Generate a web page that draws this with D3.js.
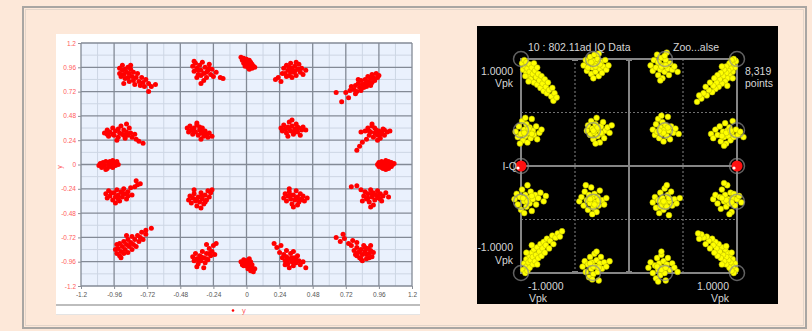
<!DOCTYPE html>
<html>
<head>
<meta charset="utf-8">
<script src="https://cdn.jsdelivr.net/npm/d3@7"></script>
<style>
html, body { margin: 0; padding: 0; background: #fde8d9; }
svg { display: block; }
</style>
</head>
<body>
<div id="chart"></div>
<script>
// ---------- left chart data (x, y) ----------
var xTicks = [-1.2, -0.96, -0.72, -0.48, -0.24, 0, 0.24, 0.48, 0.72, 0.96, 1.2];
var xTickLabels = ["-1.2", "-0.96", "-0.72", "-0.48", "-0.24", "0", "0.24", "0.48", "0.72", "0.96", "1.2"];
var yTicks = [-1.2, -0.96, -0.72, -0.48, -0.24, 0, 0.24, 0.48, 0.72, 0.96, 1.2];
var yTickLabels = ["-1.2", "-0.96", "-0.72", "-0.48", "-0.24", "0", "0.24", "0.48", "0.72", "0.96", "1.2"];
var minorTicks = [-1.08, -0.84, -0.6, -0.36, -0.12, 0.12, 0.36, 0.6, 0.84, 1.08];
var seriesName = "y";

var redE = [[0.95,0.00],[0.96,0.02],[0.96,-0.02],[0.97,0.01],[0.98,-0.03],[0.98,0.03],[0.99,0.00],[1.00,-0.02],[1.00,0.02],[1.01,0.04],[1.02,-0.01],[1.02,0.01],[1.03,-0.04],[1.03,0.03],[1.04,0.00],[1.05,-0.02],[1.05,0.02],[1.06,0.00],[1.07,0.01],[0.99,-0.04],[1.01,-0.05]];
var redENE = [[0.86,0.33],[0.88,0.36],[0.89,0.29],[0.90,0.32],[0.91,0.38],[0.92,0.27],[0.93,0.31],[0.94,0.34],[0.95,0.29],[0.96,0.33],[0.97,0.26],[0.98,0.31],[0.99,0.35],[1.00,0.29],[1.02,0.32],[1.04,0.33],[0.87,0.25],[0.84,0.22],[0.82,0.18],[0.80,0.14],[0.83,0.32],[0.95,0.24],[0.91,0.40],[0.93,0.36],[0.97,0.30],[0.89,0.33],[1.00,0.34]];
var redNE = [[0.78,0.74],[0.79,0.78],[0.80,0.72],[0.81,0.80],[0.82,0.76],[0.83,0.73],[0.83,0.83],[0.84,0.79],[0.85,0.76],[0.86,0.84],[0.86,0.80],[0.87,0.77],[0.88,0.87],[0.88,0.82],[0.89,0.79],[0.90,0.85],[0.91,0.89],[0.91,0.81],[0.92,0.86],[0.93,0.83],[0.94,0.90],[0.95,0.86],[0.96,0.88],[0.76,0.77],[0.75,0.73],[0.72,0.71],[0.65,0.71],[0.69,0.62],[0.74,0.66],[0.79,0.70],[0.81,0.84],[0.90,0.78]];
var redNNE = [[0.27,0.95],[0.28,0.90],[0.29,0.98],[0.30,0.93],[0.31,0.88],[0.32,1.00],[0.33,0.95],[0.34,0.91],[0.35,0.97],[0.36,0.88],[0.37,0.94],[0.38,0.99],[0.39,0.91],[0.40,0.95],[0.41,0.89],[0.33,0.86],[0.29,0.87],[0.26,0.90],[0.23,0.86],[0.21,0.84],[0.25,0.82],[0.43,0.93],[0.36,1.01],[0.31,0.96],[0.35,0.92],[0.38,0.94],[0.32,0.91]];
var redN = [[-0.04,1.06],[-0.03,1.03],[-0.02,1.05],[-0.02,1.00],[-0.01,1.02],[0.00,0.98],[0.00,1.04],[0.01,1.01],[0.01,0.96],[0.02,0.99],[0.02,1.03],[0.03,0.97],[0.03,1.01],[0.04,0.95],[0.04,0.99],[0.05,0.97],[0.06,0.96],[-0.01,0.97],[0.02,0.94]];
var redNNW = [[-0.39,0.97],[-0.38,0.92],[-0.37,1.00],[-0.36,0.95],[-0.35,0.89],[-0.34,0.98],[-0.33,0.93],[-0.32,1.01],[-0.31,0.90],[-0.30,0.96],[-0.29,0.86],[-0.28,0.93],[-0.27,0.99],[-0.26,0.89],[-0.25,0.94],[-0.24,0.87],[-0.31,0.83],[-0.33,0.80],[-0.22,0.91],[-0.19,0.86],[-0.17,0.85],[-0.36,0.86],[-0.38,1.02],[-0.33,0.88],[-0.29,0.91],[-0.35,0.93],[-0.27,0.95]];
var redNW = [[-0.92,0.90],[-0.92,0.95],[-0.91,0.87],[-0.90,0.93],[-0.90,0.98],[-0.89,0.89],[-0.88,0.85],[-0.88,0.94],[-0.87,0.91],[-0.86,0.96],[-0.86,0.86],[-0.85,0.82],[-0.85,0.90],[-0.84,0.94],[-0.83,0.87],[-0.82,0.83],[-0.82,0.91],[-0.81,0.79],[-0.80,0.86],[-0.79,0.90],[-0.78,0.82],[-0.77,0.78],[-0.76,0.86],[-0.75,0.81],[-0.74,0.77],[-0.73,0.84],[-0.71,0.80],[-0.69,0.77],[-0.66,0.79],[-0.71,0.72],[-0.89,0.80],[-0.84,0.98]];
var redWNW = [[-1.03,0.31],[-1.01,0.34],[-1.00,0.28],[-0.99,0.32],[-0.97,0.36],[-0.96,0.29],[-0.95,0.33],[-0.93,0.27],[-0.92,0.31],[-0.91,0.38],[-0.90,0.30],[-0.89,0.34],[-0.88,0.26],[-0.87,0.32],[-0.86,0.29],[-0.85,0.36],[-0.84,0.31],[-0.83,0.27],[-0.81,0.30],[-0.80,0.25],[-0.78,0.23],[-0.75,0.21],[-0.87,0.40],[-0.94,0.24],[-0.97,0.30],[-0.93,0.35],[-0.89,0.29],[-1.01,0.30]];
var redW = [[-1.07,-0.01],[-1.06,0.01],[-1.05,-0.03],[-1.04,0.02],[-1.03,-0.01],[-1.02,0.03],[-1.01,-0.04],[-1.00,0.00],[-0.99,0.03],[-0.99,-0.02],[-0.98,0.01],[-0.97,-0.03],[-0.96,0.02],[-0.95,-0.01],[-0.94,0.03],[-0.93,0.00],[-1.02,-0.05],[-0.97,0.04]];
var redWSW = [[-1.02,-0.29],[-1.01,-0.33],[-1.00,-0.26],[-0.99,-0.31],[-0.97,-0.35],[-0.96,-0.28],[-0.95,-0.32],[-0.94,-0.25],[-0.93,-0.30],[-0.92,-0.36],[-0.91,-0.27],[-0.90,-0.32],[-0.89,-0.24],[-0.88,-0.29],[-0.87,-0.34],[-0.86,-0.27],[-0.84,-0.23],[-0.83,-0.30],[-0.81,-0.22],[-0.79,-0.20],[-0.80,-0.16],[-0.77,-0.19],[-0.95,-0.38],[-0.98,-0.28],[-0.93,-0.34],[-0.90,-0.28],[-0.86,-0.31]];
var redSW = [[-0.95,-0.84],[-0.94,-0.79],[-0.94,-0.88],[-0.93,-0.83],[-0.92,-0.90],[-0.92,-0.78],[-0.91,-0.86],[-0.90,-0.81],[-0.89,-0.88],[-0.89,-0.76],[-0.88,-0.84],[-0.87,-0.79],[-0.86,-0.87],[-0.86,-0.74],[-0.85,-0.81],[-0.84,-0.77],[-0.83,-0.84],[-0.83,-0.71],[-0.82,-0.79],[-0.81,-0.74],[-0.80,-0.81],[-0.79,-0.70],[-0.78,-0.76],[-0.77,-0.72],[-0.76,-0.67],[-0.75,-0.74],[-0.73,-0.69],[-0.73,-0.65],[-0.69,-0.63],[-0.91,-0.92],[-0.87,-0.70]];
var redSSW = [[-0.39,-0.91],[-0.38,-0.95],[-0.37,-0.88],[-0.36,-0.93],[-0.35,-0.98],[-0.34,-0.90],[-0.33,-0.95],[-0.32,-0.86],[-0.31,-0.92],[-0.30,-0.97],[-0.29,-0.88],[-0.28,-0.94],[-0.27,-0.83],[-0.26,-0.90],[-0.25,-0.86],[-0.24,-0.80],[-0.22,-0.78],[-0.36,-1.01],[-0.31,-1.02],[-0.23,-0.89],[-0.29,-0.79],[-0.33,-0.91],[-0.29,-0.93],[-0.35,-0.94],[-0.27,-0.88]];
var redS = [[-0.04,-0.96],[-0.03,-0.99],[-0.02,-0.94],[-0.01,-0.97],[0.00,-1.00],[0.00,-0.95],[0.01,-1.03],[0.01,-0.98],[0.02,-1.01],[0.03,-0.96],[0.03,-1.05],[0.04,-0.99],[0.04,-1.02],[0.05,-1.06],[0.06,-1.03],[-0.02,-1.00],[0.02,-0.93]];
var redSSE = [[0.26,-0.92],[0.27,-0.89],[0.28,-0.95],[0.29,-0.91],[0.30,-0.98],[0.31,-0.93],[0.32,-0.88],[0.33,-0.96],[0.34,-1.00],[0.35,-0.92],[0.36,-0.97],[0.37,-0.90],[0.38,-0.95],[0.39,-0.99],[0.41,-0.96],[0.34,-0.86],[0.29,-0.85],[0.24,-0.87],[0.22,-0.82],[0.20,-0.78],[0.25,-0.80],[0.43,-1.02],[0.31,-1.02],[0.30,-0.94],[0.33,-0.92],[0.36,-0.94],[0.28,-0.99]];
var redSE = [[0.78,-0.85],[0.79,-0.89],[0.80,-0.82],[0.81,-0.87],[0.82,-0.92],[0.83,-0.84],[0.84,-0.89],[0.85,-0.80],[0.86,-0.86],[0.87,-0.93],[0.88,-0.83],[0.89,-0.88],[0.90,-0.85],[0.91,-0.91],[0.92,-0.87],[0.84,-0.95],[0.76,-0.80],[0.74,-0.78],[0.71,-0.73],[0.68,-0.76],[0.65,-0.72],[0.70,-0.69],[0.77,-0.75],[0.80,-0.77],[0.80,-0.90],[0.83,-0.93],[0.86,-0.82],[0.89,-0.92],[0.87,-0.89],[0.82,-0.86],[0.90,-0.80]];
var redESE = [[0.85,-0.31],[0.86,-0.27],[0.87,-0.34],[0.88,-0.29],[0.89,-0.37],[0.90,-0.25],[0.91,-0.32],[0.92,-0.28],[0.93,-0.35],[0.94,-0.30],[0.95,-0.26],[0.96,-0.33],[0.97,-0.29],[0.98,-0.36],[0.99,-0.31],[1.01,-0.28],[1.03,-0.32],[0.92,-0.40],[0.83,-0.25],[0.80,-0.21],[0.76,-0.22],[0.84,-0.36],[0.90,-0.42],[0.91,-0.29],[0.95,-0.32],[0.88,-0.33],[0.97,-0.34]];
var redInNE = [[0.25,0.36],[0.26,0.33],[0.27,0.39],[0.28,0.35],[0.29,0.31],[0.30,0.37],[0.31,0.42],[0.32,0.33],[0.33,0.38],[0.34,0.30],[0.35,0.35],[0.36,0.40],[0.37,0.32],[0.38,0.36],[0.39,0.29],[0.40,0.34],[0.41,0.37],[0.43,0.34],[0.33,0.44],[0.30,0.28],[0.31,0.35],[0.35,0.32],[0.37,0.37]];
var redInNW = [[-0.43,0.36],[-0.42,0.32],[-0.41,0.38],[-0.40,0.34],[-0.39,0.30],[-0.38,0.36],[-0.37,0.32],[-0.36,0.39],[-0.35,0.29],[-0.34,0.34],[-0.33,0.31],[-0.32,0.36],[-0.31,0.28],[-0.30,0.33],[-0.29,0.30],[-0.28,0.27],[-0.27,0.31],[-0.25,0.28],[-0.36,0.41],[-0.33,0.25],[-0.38,0.33],[-0.34,0.37],[-0.31,0.32]];
var redInSW = [[-0.42,-0.35],[-0.41,-0.31],[-0.40,-0.38],[-0.39,-0.33],[-0.38,-0.29],[-0.37,-0.36],[-0.36,-0.41],[-0.35,-0.32],[-0.34,-0.37],[-0.33,-0.28],[-0.32,-0.34],[-0.31,-0.39],[-0.30,-0.30],[-0.29,-0.35],[-0.28,-0.26],[-0.27,-0.32],[-0.26,-0.28],[-0.25,-0.25],[-0.33,-0.43],[-0.38,-0.25],[-0.36,-0.34],[-0.32,-0.31],[-0.30,-0.37]];
var redInSE = [[0.27,-0.33],[0.28,-0.29],[0.29,-0.36],[0.30,-0.31],[0.31,-0.27],[0.32,-0.34],[0.33,-0.39],[0.34,-0.30],[0.35,-0.35],[0.36,-0.26],[0.37,-0.32],[0.38,-0.37],[0.39,-0.29],[0.40,-0.34],[0.41,-0.31],[0.42,-0.36],[0.44,-0.33],[0.34,-0.42],[0.31,-0.24],[0.37,-0.40],[0.32,-0.30],[0.36,-0.33],[0.39,-0.35]];

var leftSeries = [redE, redENE, redNE, redNNE, redN, redNNW, redNW, redWNW, redW, redWSW, redSW, redSSW, redS, redSSE, redSE, redESE, redInNE, redInNW, redInSW, redInSE];

// ---------- right panel data (I, Q in Vpk) ----------
var iqTitle = "10 : 802.11ad IQ Data";
var iqZoom = "Zoo...alse";
var iqCount = "8,319";
var idealLevels = [-1, -0.3333, 0.3333, 1];
var iqRefPoints = [[-1, 0], [1, 0]];

var yelA = [[-0.99,0.96],[-0.98,0.90],[-0.97,0.99],[-0.96,0.93],[-0.95,0.87],[-0.95,0.97],[-0.94,0.91],[-0.93,0.84],[-0.92,0.95],[-0.92,0.88],[-0.91,0.81],[-0.90,0.92],[-0.89,0.86],[-0.88,0.78],[-0.88,0.96],[-0.87,0.89],[-0.86,0.83],[-0.85,0.76],[-0.85,0.92],[-0.84,0.86],[-0.83,0.80],[-0.82,0.73],[-0.81,0.84],[-0.80,0.77],[-0.79,0.70],[-0.78,0.81],[-0.77,0.74],[-0.76,0.68],[-0.75,0.78],[-0.74,0.71],[-0.72,0.65],[-0.71,0.73],[-0.70,0.61],[-0.69,0.68],[-0.67,0.64],[-0.93,0.79],[-0.96,0.84]];
var yelB = [[-0.42,0.94],[-0.40,0.99],[-0.39,0.89],[-0.37,0.96],[-0.36,1.02],[-0.35,0.86],[-0.34,0.92],[-0.33,0.98],[-0.32,1.04],[-0.31,0.88],[-0.30,0.95],[-0.29,1.00],[-0.28,0.84],[-0.27,0.91],[-0.26,0.97],[-0.25,0.87],[-0.24,0.93],[-0.22,0.99],[-0.21,0.90],[-0.19,0.94],[-0.33,0.82],[-0.28,1.05],[-0.38,0.92],[-0.31,0.93],[-0.27,0.95],[-0.35,0.97]];
var yelC = [[-1.05,0.32],[-1.03,0.27],[-1.02,0.37],[-1.00,0.30],[-0.99,0.42],[-0.98,0.24],[-0.97,0.34],[-0.96,0.28],[-0.95,0.39],[-0.94,0.22],[-0.93,0.31],[-0.92,0.36],[-0.91,0.26],[-0.90,0.44],[-0.89,0.33],[-0.88,0.29],[-0.86,0.37],[-0.85,0.25],[-0.83,0.31],[-0.81,0.34],[-0.96,0.45],[-1.01,0.21],[-0.97,0.31],[-0.93,0.35],[-0.90,0.30]];
var yelD = [[-0.39,0.33],[-0.38,0.38],[-0.36,0.29],[-0.35,0.42],[-0.34,0.35],[-0.33,0.25],[-0.32,0.31],[-0.31,0.39],[-0.30,0.45],[-0.29,0.28],[-0.28,0.34],[-0.27,0.22],[-0.26,0.37],[-0.25,0.30],[-0.24,0.41],[-0.23,0.26],[-0.22,0.33],[-0.20,0.36],[-0.18,0.31],[-0.16,0.38],[-0.31,0.21],[-0.33,0.33],[-0.29,0.36],[-0.26,0.31]];
var yelE = [[0.20,0.94],[0.22,0.89],[0.23,0.99],[0.25,0.92],[0.26,1.04],[0.27,0.85],[0.28,0.96],[0.29,0.90],[0.30,1.01],[0.31,0.82],[0.32,0.94],[0.33,0.88],[0.34,0.99],[0.35,1.06],[0.36,0.91],[0.37,0.85],[0.38,0.96],[0.40,0.90],[0.42,0.93],[0.45,0.88],[0.29,0.80],[0.33,1.03],[0.30,0.93],[0.34,0.94],[0.27,0.97]];
var yelF = [[0.99,0.98],[0.98,0.92],[0.97,1.00],[0.96,0.95],[0.96,0.88],[0.95,0.99],[0.94,0.91],[0.93,0.85],[0.93,0.96],[0.92,0.89],[0.91,0.82],[0.90,0.93],[0.90,0.87],[0.89,0.79],[0.88,0.90],[0.87,0.84],[0.86,0.77],[0.86,0.93],[0.85,0.87],[0.84,0.81],[0.83,0.74],[0.82,0.85],[0.81,0.78],[0.80,0.72],[0.79,0.82],[0.78,0.75],[0.77,0.69],[0.75,0.78],[0.74,0.71],[0.72,0.66],[0.71,0.74],[0.69,0.68],[0.67,0.63],[0.65,0.66],[0.63,0.60],[0.96,0.82],[0.91,0.75]];
var yelG = [[0.22,0.34],[0.24,0.29],[0.25,0.39],[0.26,0.32],[0.27,0.44],[0.28,0.26],[0.29,0.36],[0.30,0.30],[0.31,0.41],[0.32,0.23],[0.33,0.34],[0.34,0.38],[0.35,0.28],[0.36,0.46],[0.37,0.33],[0.38,0.25],[0.39,0.37],[0.41,0.31],[0.43,0.35],[0.46,0.30],[0.30,0.47],[0.32,0.31],[0.36,0.36],[0.28,0.33]];
var yelH = [[0.76,0.30],[0.78,0.26],[0.80,0.34],[0.82,0.29],[0.84,0.37],[0.85,0.23],[0.87,0.32],[0.88,0.27],[0.89,0.40],[0.90,0.21],[0.91,0.33],[0.92,0.28],[0.93,0.36],[0.94,0.24],[0.95,0.31],[0.96,0.42],[0.97,0.27],[0.99,0.34],[1.01,0.29],[1.03,0.32],[1.06,0.27],[0.88,0.19],[0.90,0.31],[0.94,0.33],[0.86,0.28]];
var yelI = [[-1.06,-0.31],[-1.04,-0.26],[-1.03,-0.36],[-1.01,-0.29],[-1.00,-0.41],[-0.99,-0.22],[-0.97,-0.33],[-0.96,-0.27],[-0.95,-0.38],[-0.94,-0.18],[-0.93,-0.30],[-0.92,-0.35],[-0.91,-0.24],[-0.90,-0.42],[-0.89,-0.31],[-0.87,-0.27],[-0.86,-0.36],[-0.84,-0.30],[-0.82,-0.25],[-0.79,-0.33],[-0.77,-0.28],[-0.97,-0.44],[-0.98,-0.30],[-0.94,-0.33],[-0.90,-0.28]];
var yelJ = [[-0.46,-0.33],[-0.44,-0.29],[-0.42,-0.37],[-0.41,-0.24],[-0.39,-0.32],[-0.38,-0.41],[-0.37,-0.27],[-0.36,-0.35],[-0.35,-0.20],[-0.34,-0.30],[-0.33,-0.39],[-0.32,-0.26],[-0.31,-0.34],[-0.30,-0.43],[-0.29,-0.29],[-0.28,-0.37],[-0.27,-0.23],[-0.25,-0.32],[-0.23,-0.36],[-0.21,-0.30],[-0.34,-0.45],[-0.40,-0.18],[-0.36,-0.31],[-0.32,-0.36],[-0.28,-0.32]];
var yelK = [[-0.98,-0.97],[-0.97,-0.91],[-0.96,-1.00],[-0.95,-0.94],[-0.95,-0.87],[-0.94,-0.98],[-0.93,-0.90],[-0.92,-0.84],[-0.92,-0.95],[-0.91,-0.88],[-0.90,-0.81],[-0.89,-0.92],[-0.89,-0.85],[-0.88,-0.78],[-0.87,-0.89],[-0.86,-0.83],[-0.85,-0.76],[-0.85,-0.92],[-0.84,-0.86],[-0.83,-0.80],[-0.82,-0.73],[-0.81,-0.84],[-0.80,-0.77],[-0.79,-0.71],[-0.78,-0.81],[-0.77,-0.74],[-0.76,-0.68],[-0.74,-0.77],[-0.73,-0.70],[-0.71,-0.65],[-0.70,-0.73],[-0.68,-0.67],[-0.66,-0.63],[-0.64,-0.66],[-0.62,-0.61],[-0.95,-0.81],[-0.90,-0.74]];
var yelL = [[-0.43,-0.94],[-0.41,-0.89],[-0.40,-0.99],[-0.38,-0.92],[-0.37,-1.04],[-0.36,-0.85],[-0.35,-0.96],[-0.34,-0.90],[-0.33,-1.01],[-0.32,-0.82],[-0.31,-0.94],[-0.30,-0.88],[-0.29,-0.99],[-0.28,-1.07],[-0.27,-0.91],[-0.26,-0.85],[-0.25,-0.96],[-0.23,-0.90],[-0.21,-0.94],[-0.18,-0.89],[-0.30,-0.80],[-0.34,-1.06],[-0.33,-0.94],[-0.28,-0.95],[-0.36,-0.91]];
var yelM = [[0.22,-0.34],[0.24,-0.29],[0.25,-0.39],[0.27,-0.32],[0.28,-0.44],[0.29,-0.25],[0.30,-0.36],[0.31,-0.30],[0.32,-0.41],[0.33,-0.21],[0.34,-0.34],[0.35,-0.38],[0.36,-0.27],[0.37,-0.46],[0.38,-0.33],[0.39,-0.24],[0.40,-0.37],[0.42,-0.31],[0.44,-0.35],[0.47,-0.30],[0.35,-0.18],[0.32,-0.33],[0.37,-0.30],[0.29,-0.38]];
var yelN = [[0.78,-0.31],[0.80,-0.27],[0.82,-0.35],[0.84,-0.29],[0.85,-0.40],[0.86,-0.22],[0.88,-0.33],[0.89,-0.27],[0.90,-0.38],[0.91,-0.18],[0.92,-0.31],[0.93,-0.35],[0.94,-0.25],[0.95,-0.43],[0.96,-0.30],[0.97,-0.26],[0.98,-0.37],[1.00,-0.31],[1.02,-0.28],[1.04,-0.34],[0.93,-0.45],[0.88,-0.16],[0.90,-0.32],[0.95,-0.34],[0.86,-0.30]];
var yelO = [[0.18,-0.95],[0.20,-0.90],[0.22,-1.00],[0.24,-0.93],[0.25,-1.05],[0.26,-0.86],[0.27,-0.97],[0.28,-0.91],[0.29,-1.02],[0.30,-0.83],[0.31,-0.95],[0.32,-0.89],[0.33,-1.00],[0.34,-1.07],[0.35,-0.92],[0.36,-0.86],[0.38,-0.97],[0.40,-0.91],[0.42,-0.95],[0.45,-0.99],[0.30,-0.80],[0.27,-1.08],[0.30,-0.97],[0.34,-0.95],[0.26,-0.94]];
var yelP = [[0.99,-0.97],[0.98,-0.91],[0.97,-1.00],[0.96,-0.94],[0.96,-0.87],[0.95,-0.98],[0.94,-0.90],[0.93,-0.84],[0.93,-0.95],[0.92,-0.88],[0.91,-0.81],[0.90,-0.92],[0.90,-0.85],[0.89,-0.78],[0.88,-0.89],[0.87,-0.83],[0.86,-0.76],[0.86,-0.92],[0.85,-0.86],[0.84,-0.80],[0.83,-0.73],[0.82,-0.84],[0.81,-0.77],[0.80,-0.71],[0.79,-0.81],[0.78,-0.74],[0.77,-0.68],[0.75,-0.77],[0.74,-0.70],[0.72,-0.66],[0.71,-0.73],[0.69,-0.67],[0.67,-0.64],[0.65,-0.68],[0.64,-0.63],[0.95,-0.81],[0.90,-0.75]];

var rightSeries = [yelA, yelB, yelC, yelD, yelE, yelF, yelG, yelH, yelI, yelJ, yelK, yelL, yelM, yelN, yelO, yelP];

// ---------- svg ----------
var svgWidth = 812;
var svgHeight = 331;

var svg = d3.select("#chart")
  .append("svg")
  .attr("width", svgWidth)
  .attr("height", svgHeight);

// outer frame
svg.append("rect")
  .attr("x", 23).attr("y", 7)
  .attr("width", 783).attr("height", 321)
  .attr("fill", "#fde8d9")
  .attr("stroke", "#a9a6a3")
  .attr("stroke-width", 2);
svg.append("rect")
  .attr("x", 25.5).attr("y", 9.5)
  .attr("width", 778).attr("height", 316)
  .attr("fill", "none")
  .attr("stroke", "#e3d5ca")
  .attr("stroke-width", 1);

// ---------- left chart ----------
var plot = { left: 81, right: 412, top: 43, bottom: 286 };

svg.append("rect")
  .attr("x", 56).attr("y", 34)
  .attr("width", 364).attr("height", 281)
  .attr("fill", "#ffffff");

var xScale = d3.scaleLinear().domain([-1.2, 1.2]).range([plot.left, plot.right]);
var yScale = d3.scaleLinear().domain([-1.2, 1.2]).range([plot.bottom, plot.top]);

var chartGroup = svg.append("g");

chartGroup.append("rect")
  .attr("x", plot.left).attr("y", plot.top)
  .attr("width", plot.right - plot.left).attr("height", plot.bottom - plot.top)
  .attr("fill", "#eaf1fd");

// minor grid
chartGroup.selectAll(".vminor").data(minorTicks).enter().append("line")
  .attr("x1", d => xScale(d)).attr("x2", d => xScale(d))
  .attr("y1", plot.top).attr("y2", plot.bottom)
  .attr("stroke", "#cdd6e4").attr("stroke-width", 1);
chartGroup.selectAll(".hminor").data(minorTicks).enter().append("line")
  .attr("y1", d => yScale(d)).attr("y2", d => yScale(d))
  .attr("x1", plot.left).attr("x2", plot.right)
  .attr("stroke", "#cdd6e4").attr("stroke-width", 1);

// major grid
chartGroup.selectAll(".vmajor").data(xTicks).enter().append("line")
  .attr("x1", d => xScale(d)).attr("x2", d => xScale(d))
  .attr("y1", plot.top).attr("y2", plot.bottom)
  .attr("stroke", "#838a96").attr("stroke-width", 1.3);
chartGroup.selectAll(".hmajor").data(yTicks).enter().append("line")
  .attr("y1", d => yScale(d)).attr("y2", d => yScale(d))
  .attr("x1", plot.left).attr("x2", plot.right)
  .attr("stroke", "#838a96").attr("stroke-width", 1.3);

// axes
var bottomAxis = d3.axisBottom(xScale)
  .tickValues(xTicks)
  .tickFormat((d, i) => xTickLabels[i])
  .tickSize(3).tickPadding(3);
var leftAxis = d3.axisLeft(yScale)
  .tickValues(yTicks)
  .tickFormat((d, i) => yTickLabels[i])
  .tickSize(3).tickPadding(2);

var gx = chartGroup.append("g")
  .attr("transform", `translate(0, ${plot.bottom})`)
  .call(bottomAxis);
gx.select(".domain").remove();
gx.selectAll("line").attr("stroke", "#8a8f98");
gx.selectAll("text")
  .attr("fill", "#555")
  .style("font", "6.5px 'Liberation Sans', Arial, sans-serif");

var gy = chartGroup.append("g")
  .attr("transform", `translate(${plot.left}, 0)`)
  .call(leftAxis);
gy.select(".domain").remove();
gy.selectAll("line").attr("stroke", "#8a8f98");
gy.selectAll("text")
  .attr("fill", "#ff5b5b")
  .style("font", "6.5px 'Liberation Sans', Arial, sans-serif");

// y title
chartGroup.append("text")
  .attr("transform", "translate(62, 167) rotate(-90)")
  .attr("text-anchor", "middle")
  .attr("fill", "#ff5b5b")
  .style("font", "7px 'Liberation Sans', Arial, sans-serif")
  .text(seriesName);

// points
leftSeries.forEach(function(cluster) {
  chartGroup.selectAll(null)
    .data(cluster)
    .enter()
    .append("circle")
    .attr("cx", d => xScale(d[0]))
    .attr("cy", d => yScale(d[1]))
    .attr("r", 2.5)
    .attr("fill", "#ff0000");
});

// legend strip
svg.append("line")
  .attr("x1", 56).attr("x2", 420)
  .attr("y1", 305).attr("y2", 305)
  .attr("stroke", "#bdbdbd").attr("stroke-width", 2);
svg.append("line")
  .attr("x1", 56).attr("x2", 420)
  .attr("y1", 314.5).attr("y2", 314.5)
  .attr("stroke", "#e4e4e4").attr("stroke-width", 1);
svg.append("circle")
  .attr("cx", 233).attr("cy", 310.5).attr("r", 1.3)
  .attr("fill", "#ff0000");
svg.append("text")
  .attr("x", 242).attr("y", 313)
  .attr("fill", "#ff5b5b")
  .style("font", "7.5px 'Liberation Sans', Arial, sans-serif")
  .text(seriesName);

// ---------- right panel ----------
svg.append("rect")
  .attr("x", 477).attr("y", 26)
  .attr("width", 301).attr("height", 278)
  .attr("fill", "#000000");

var iScale = d3.scaleLinear().domain([-1, 1]).range([521, 737]);
var qScale = d3.scaleLinear().domain([-1, 1]).range([273, 59]);

var iq = svg.append("g");

// dotted quarter lines
[-0.5, 0.5].forEach(function(v) {
  iq.append("line")
    .attr("x1", iScale(v)).attr("x2", iScale(v))
    .attr("y1", qScale(1)).attr("y2", qScale(-1))
    .attr("stroke", "#6f6f6f").attr("stroke-width", 1.2)
    .attr("stroke-dasharray", "2,2");
  iq.append("line")
    .attr("y1", qScale(v)).attr("y2", qScale(v))
    .attr("x1", iScale(-1)).attr("x2", iScale(1))
    .attr("stroke", "#6f6f6f").attr("stroke-width", 1.2)
    .attr("stroke-dasharray", "2,2");
});

// solid center cross and frame
iq.append("line")
  .attr("x1", iScale(0)).attr("x2", iScale(0))
  .attr("y1", qScale(1)).attr("y2", qScale(-1))
  .attr("stroke", "#858585").attr("stroke-width", 2);
iq.append("line")
  .attr("y1", qScale(0)).attr("y2", qScale(0))
  .attr("x1", iScale(-1)).attr("x2", iScale(1))
  .attr("stroke", "#858585").attr("stroke-width", 2);
iq.append("rect")
  .attr("x", iScale(-1)).attr("y", qScale(1))
  .attr("width", iScale(1) - iScale(-1)).attr("height", qScale(-1) - qScale(1))
  .attr("fill", "none")
  .attr("stroke", "#858585").attr("stroke-width", 2);

// small tick marks on top / bottom edges
[-0.5, 0].forEach(function(v) {
  iq.append("line")
    .attr("x1", iScale(v) - 3).attr("x2", iScale(v) + 3)
    .attr("y1", qScale(1) + 1).attr("y2", qScale(1) + 1)
    .attr("stroke", "#858585").attr("stroke-width", 2);
  iq.append("line")
    .attr("x1", iScale(v) - 3).attr("x2", iScale(v) + 3)
    .attr("y1", qScale(-1) - 1).attr("y2", qScale(-1) - 1)
    .attr("stroke", "#858585").attr("stroke-width", 2);
});

// yellow constellation points
rightSeries.forEach(function(cluster) {
  iq.selectAll(null)
    .data(cluster)
    .enter()
    .append("circle")
    .attr("cx", d => iScale(d[0]))
    .attr("cy", d => qScale(d[1]))
    .attr("r", 2.9)
    .attr("fill", "#ffff00")
    .attr("stroke", "#b5b500")
    .attr("stroke-width", 0.5);
});

// ideal constellation rings
var rings = [];
idealLevels.forEach(function(a) {
  idealLevels.forEach(function(b) { rings.push([a, b]); });
});
iq.selectAll(".ring")
  .data(rings.concat(iqRefPoints))
  .enter()
  .append("circle")
  .attr("cx", d => iScale(d[0]))
  .attr("cy", d => qScale(d[1]))
  .attr("r", 7.5)
  .attr("fill", "none")
  .attr("stroke", "#8a8a8a")
  .attr("stroke-opacity", 0.7)
  .attr("stroke-width", 1.5);

// red reference markers
iq.selectAll(".refdot")
  .data(iqRefPoints)
  .enter()
  .append("circle")
  .attr("cx", d => iScale(d[0]))
  .attr("cy", d => qScale(d[1]))
  .attr("r", 5.5)
  .attr("fill", "#ff1010");
iq.selectAll(".refhi")
  .data(iqRefPoints)
  .enter()
  .append("circle")
  .attr("cx", d => iScale(d[0]) - 3)
  .attr("cy", d => qScale(d[1]) + 2)
  .attr("r", 1.6)
  .attr("fill", "#ffffff");

// labels
var labelFont = "10.5px 'Liberation Sans', Arial, sans-serif";
function label(x, y, txt, anchor) {
  svg.append("text")
    .attr("x", x).attr("y", y)
    .attr("text-anchor", anchor || "start")
    .attr("fill", "#d6d6d6")
    .style("font", labelFont)
    .text(txt);
}
label(528, 50.5, iqTitle);
label(673, 50.5, iqZoom);
label(513, 75, "1.0000", "end");
label(513, 87, "Vpk", "end");
label(745, 75, iqCount);
label(745, 87, "points");
label(517, 170, "I-Q", "end");
label(513, 251, "-1.0000", "end");
label(513, 264, "Vpk", "end");
label(528, 290, "-1.0000");
label(529, 301.5, "Vpk");
label(729, 290, "1.0000", "end");
label(729, 301.5, "Vpk", "end");
</script>
</body>
</html>
